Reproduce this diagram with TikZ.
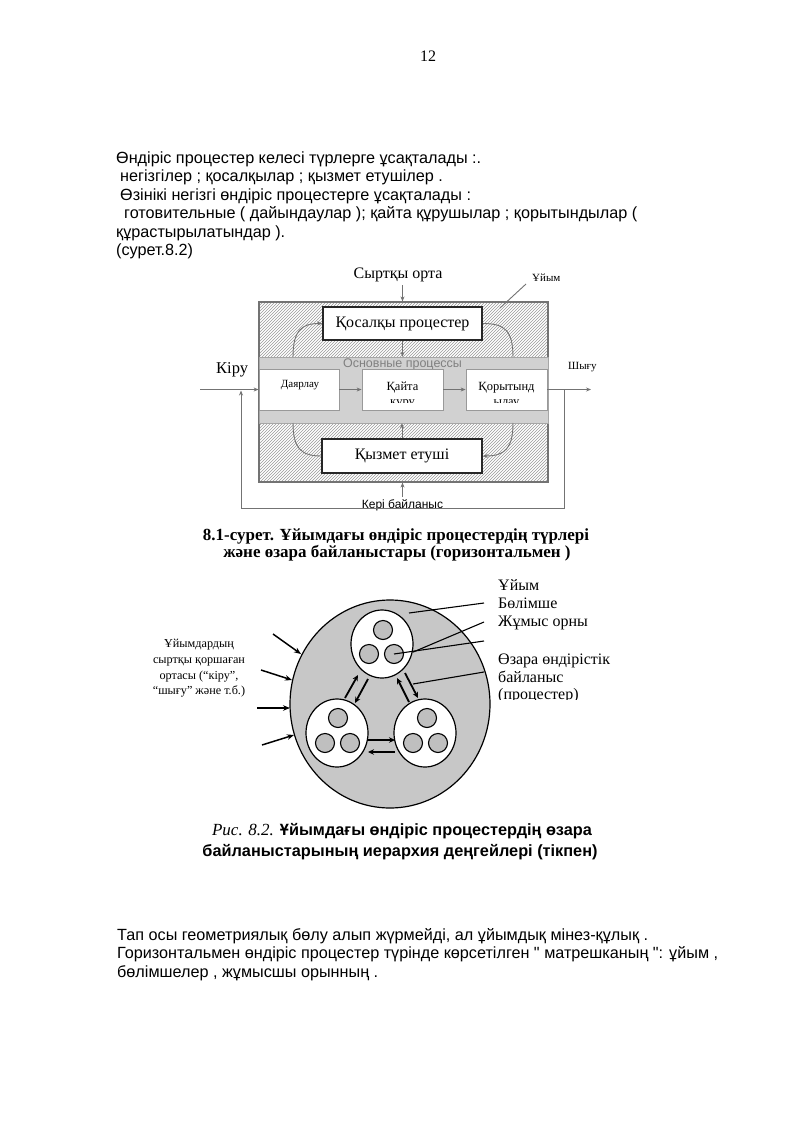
\documentclass[tikz,border=0pt]{standalone}
\usepackage{fontspec}
\setmainfont{Liberation Serif}
\setsansfont{Liberation Sans}[Ligatures=TeXOff]
\usetikzlibrary{arrows.meta,patterns,shapes.geometric}
\newcommand{\myfs}[1]{\fontsize{#1}{#1}\selectfont}
\begin{document}
\begin{tikzpicture}[x=1pt,y=-1pt,
  txt/.style={font=\sffamily\myfs{16.2}, anchor=base west, inner sep=0pt},
  ser/.style={font=\myfs{#1}, inner sep=0pt},
  ser/.default=16,
  gline/.style={draw=black!55, line width=0.9pt},
  garrow/.style={gline, -{Stealth[length=5pt,width=4pt]}},
  pbox/.style={draw=black!40, fill=white, line width=0.8pt, inner sep=0pt},
  bigbox/.style={draw=black!85, fill=white, line width=1.6pt, inner sep=0pt, font=\myfs{16}},
  bcirc/.style={ellipse, draw=black, line width=1.2pt, fill=white, inner sep=0pt, minimum width=62pt, minimum height=68pt},
  scirc/.style={circle, draw=black, line width=1.1pt, fill=black!25, inner sep=0pt, minimum size=19pt},
  barrow/.style={draw=black, line width=1.8pt, -{Stealth[length=6pt,width=5.5pt]}},
  inarrow/.style={draw=black, line width=1.5pt, -{Stealth[length=7pt,width=5.5pt]}},
  leader/.style={draw=black, line width=1.1pt}
]
\useasboundingbox (0,0) rectangle (800,1132);

% page number
\node[ser=16, anchor=base] (pg) at (428,62) {12};

% top paragraph
\node[txt] (t1) at (116,163) {Өндіріс процестер келесі түрлерге ұсақталады :.};
\node[txt] (t2) at (120,181.5) {негізгілер ; қосалқылар ; қызмет етушілер .};
\node[txt] (t3) at (120,200) {Өзінікі негізгі өндіріс процестерге ұсақталады :};
\node[txt] (t4) at (124,218.5) {готовительные ( дайындаулар ); қайта құрушылар ; қорытындылар (};
\node[txt] (t5) at (116,237) {құрастырылатындар ).};
\node[txt] (t6) at (116,255) {(сурет.8.2)};

% ---------- Figure 8.1 ----------
\node[ser=16, anchor=base] (ext) at (398,278) {Сыртқы орта};
\node[ser=11, anchor=base west] (uyim) at (532,281) {Ұйым};

\node[draw=black!55, line width=1.2pt, pattern=north east lines, pattern color=black!40,
      minimum width=289pt, minimum height=180pt, inner sep=0pt] (org) at (403.5,392) {};
\node[draw=black!35, fill=black!18, minimum width=289pt, minimum height=66pt, inner sep=0pt] (band) at (403.5,390) {};
\node[font=\sffamily\myfs{12.5}, text=black!50, inner sep=0pt, anchor=base] (osn) at (402.5,367.5) {Основные процессы};

\node[pbox, minimum width=80pt, minimum height=41pt] (dayar) at (299,389.5) {};
\node[pbox, minimum width=81pt, minimum height=41pt] (qayta) at (402.5,389.5) {};
\node[pbox, minimum width=81pt, minimum height=41pt] (qoryt) at (506.5,389.5) {};

\node[ser=11, anchor=base] (tday) at (300,387) {Даярлау};
\node[ser=12.5, anchor=base] (tqay) at (402.5,390) {Қайта};
\node[ser=12.5, anchor=base] (tqor) at (506.5,390) {Қорытынд};
\begin{scope}
  \clip (362,369) rectangle (443,402.5);
  \node[ser=12.5, anchor=base] (tqay2) at (402.5,405) {құру};
\end{scope}
\begin{scope}
  \clip (466,369) rectangle (547,402.5);
  \node[ser=12.5, anchor=base] (tqor2) at (506.5,405) {ылау};
\end{scope}

\node[bigbox, minimum width=159pt, minimum height=33pt] (qos) at (402.5,323.5) {Қосалқы процестер};
\node[bigbox, minimum width=160pt, minimum height=34pt] (qyz) at (402,456) {Қызмет етуші};

\node[ser=16.5, anchor=base west] (kiru) at (216,373) {Кіру};
\node[ser=11, anchor=base west] (shygu) at (568,369) {Шығу};
\node[font=\sffamily\myfs{12}, anchor=base, inner sep=0pt] (keri) at (402.5,508.5) {Кері байланыс};

% connectors figure 8.1
\coordinate (inp) at (200,389.5);
\draw[garrow] (inp) -- (dayar.west);
\draw[garrow] (dayar.east) -- (qayta.west);
\draw[garrow] (qayta.east) -- (qoryt.west);
\coordinate (outp) at (591,389.5);
\draw[garrow] (qoryt.east) -- (outp);
\coordinate (fbr) at (564,389.5);
\coordinate (fbrb) at (564,508);
\coordinate (fblb) at (241,508);
\coordinate (fbl) at (241,390.5);
\draw[garrow] (fbr) -- (fbrb) -- (fblb) -- (fbl);

\coordinate (extb) at (402.5,285);
\draw[garrow] (extb) -- (extb |- org.north);
\draw[garrow] (qos.south) -- (qos.south |- band.north);
\draw[garrow] (qyz.north) -- (qyz.north |- band.south);
\coordinate (kerit) at (402.5,497);
\draw[garrow] (kerit) -- (kerit |- org.south);
\coordinate (ul1) at (526,284);
\coordinate (ul2) at (500,308);
\draw[gline] (ul1) -- (ul2);

\coordinate (bt1) at (293,357);
\coordinate (bt2) at (513,357);
\coordinate (bb1) at (293,423);
\coordinate (bb2) at (513,423);
\draw[garrow] (bt1) .. controls (293,330) and (302,323.5) .. (qos.west);
\draw[gline] (qos.east) .. controls (504,323.5) and (513,330) .. (bt2);
\draw[gline] (bb1) .. controls (293,448) and (301,456) .. (qyz.west);
\draw[garrow] (bb2) .. controls (513,448) and (505,456) .. (qyz.east);

% caption 8.1
\node[font=\bfseries\myfs{17}, anchor=base, inner sep=0pt] (cap1a) at (396,540) {8.1-сурет. Ұйымдағы өндіріс процестердің түрлері};
\node[font=\bfseries\myfs{17}, anchor=base, inner sep=0pt] (cap1b) at (397,557) {және өзара байланыстары (горизонтальмен )};

% ---------- Figure 8.2 ----------
\node[ellipse, draw=black, line width=1.2pt, fill=black!22, minimum width=200pt, minimum height=208pt, inner sep=0pt] (org2) at (390,704) {};

\node[bcirc] (ctop) at (382,644) {};
\node[bcirc] (cbl) at (337,733) {};
\node[bcirc] (cbr) at (425,733) {};

\node[scirc] (s1) at (383,630) {};
\node[scirc] (s2) at (369,654) {};
\node[scirc] (s3) at (394,654) {};
\node[scirc] (s4) at (338,718) {};
\node[scirc] (s5) at (325,743) {};
\node[scirc] (s6) at (350,743) {};
\node[scirc] (s7) at (427,718) {};
\node[scirc] (s8) at (413,743) {};
\node[scirc] (s9) at (438,743) {};

% arrows between units
\coordinate (a1s) at (345,698); \coordinate (a1e) at (358,675);
\coordinate (a2s) at (368,679); \coordinate (a2e) at (355,703);
\coordinate (a3s) at (405,673); \coordinate (a3e) at (418,698);
\coordinate (a4s) at (409,702); \coordinate (a4e) at (397,678);
\coordinate (a5s) at (368,740); \coordinate (a5e) at (395,740);
\coordinate (a6s) at (395,752); \coordinate (a6e) at (368,752);
\draw[barrow] (a1s) -- (a1e);
\draw[barrow] (a2s) -- (a2e);
\draw[barrow] (a3s) -- (a3e);
\draw[barrow] (a4s) -- (a4e);
\draw[barrow] (a5s) -- (a5e);
\draw[barrow] (a6s) -- (a6e);

% external arrows
\coordinate (e1) at (273,634); \coordinate (e1t) at (301,654);
\coordinate (e2) at (261,670); \coordinate (e2t) at (292,680);
\coordinate (e3) at (257,708); \coordinate (e3t) at (290,708);
\coordinate (e4) at (262,745); \coordinate (e4t) at (294,735);
\draw[inarrow] (e1) -- (e1t);
\draw[inarrow] (e2) -- (e2t);
\draw[inarrow] (e3) -- (e3t);
\draw[inarrow] (e4) -- (e4t);

% leaders
\coordinate (d1) at (409,613); \coordinate (d1e) at (484,603);
\coordinate (d2e) at (484,622);
\coordinate (d3e) at (484,641);
\coordinate (d4) at (413,684); \coordinate (d4e) at (484,672);
\draw[leader] (d1) -- (d1e);
\draw[leader] (ctop.-15) -- (d2e);
\draw[leader] (s3.center) -- (d3e);
\draw[leader] (d4) -- (d4e);

% labels
\node[ser=12.2, anchor=base] (l1) at (199,647) {Ұйымдардың};
\node[ser=12.2, anchor=base] (l2) at (199,663) {сыртқы қоршаған};
\node[ser=12.2, anchor=base] (l3) at (199,679) {ортасы (“кіру”,};
\node[ser=12.2, anchor=base] (l4) at (199,694) {“шығу” және т.б.)};

\node[ser=16, anchor=base west] (r1) at (498,590) {Ұйым};
\node[ser=16, anchor=base west] (r2) at (498,608) {Бөлімше};
\node[ser=16, anchor=base west] (r3) at (498,626) {Жұмыс орны};
\node[ser=16, anchor=base west] (r4) at (498,664) {Өзара өндірістік};
\node[ser=16, anchor=base west] (r5) at (498,682) {байланыс};
\begin{scope}
  \clip (490,684) rectangle (640,699.5);
  \node[ser=16, anchor=base west] (r6) at (498,699) {(процестер)};
\end{scope}

% caption 8.2
\node[font=\sffamily\bfseries\myfs{16.3}, anchor=base, inner sep=0pt] (cap2a) at (402,835) {{\rmfamily\mdseries\itshape\fontsize{17}{17}\selectfont Рис. 8.2.} Ұйымдағы өндіріс процестердің өзара};
\node[font=\sffamily\bfseries\myfs{16.3}, anchor=base, inner sep=0pt] (cap2b) at (400,856) {байланыстарының иерархия деңгейлері (тікпен)};

% bottom paragraph
\node[txt] (b1) at (117,940) {Тап осы геометриялық бөлу алып жүрмейді, ал ұйымдық мінез-құлық .};
\node[txt] (b2) at (117,958) {Горизонтальмен өндіріс процестер түрінде көрсетілген " матрешканың ": ұйым ,};
\node[txt] (b3) at (117,977) {бөлімшелер , жұмысшы орынның .};
\end{tikzpicture}
\end{document}
